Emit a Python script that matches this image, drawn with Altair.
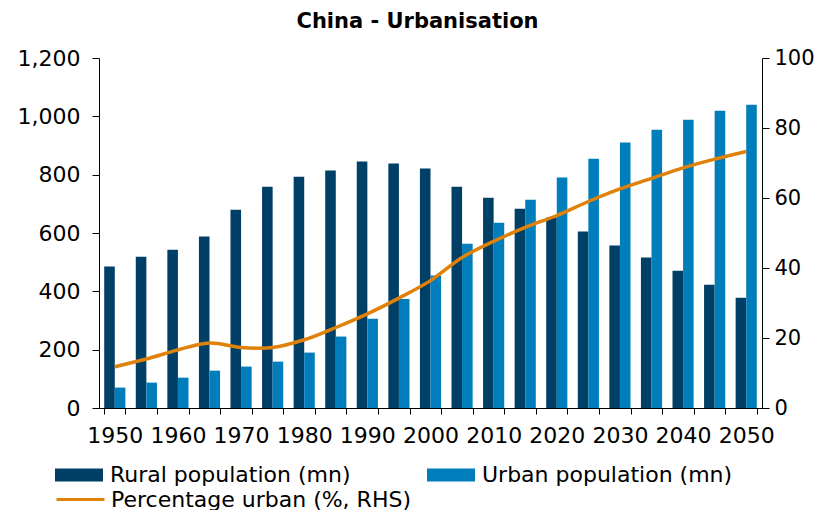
import altair as alt
import pandas as pd

years = list(range(1950, 2051, 5))
rural = [485, 519, 543, 588, 680, 759, 793, 814, 845, 838, 821,
         759, 721, 683, 653, 605, 557, 516, 471, 423, 378]
urban = [70, 87, 104, 128, 142, 159, 190, 245, 306, 374, 454,
         563, 635, 714, 790, 855, 910, 954, 988, 1019, 1040]
pct_urban = [11.8, 14.0, 16.6, 18.6, 17.3, 17.3, 19.5, 23.0, 26.9, 31.4, 36.4,
             43.0, 47.6, 51.6, 55.0, 59.0, 62.6, 65.6, 68.6, 71.1, 73.3]

RURAL = "Rural population (mn)"
URBAN = "Urban population (mn)"
PCT = "Percentage urban (%, RHS)"

bars_df = pd.DataFrame(
    [{"year": y, "series": RURAL, "value": v} for y, v in zip(years, rural)]
    + [{"year": y, "series": URBAN, "value": v} for y, v in zip(years, urban)]
)
line_df = pd.DataFrame({"year": years, "pct": pct_urban, "series": PCT})

FONT = "DejaVu Sans"
FS = 22

x_enc = alt.X(
    "year:O",
    title=None,
    scale=alt.Scale(paddingInner=0.33, paddingOuter=0.165),
    axis=alt.Axis(
        labelAngle=0,
        labelExpr="datum.value % 10 === 0 ? datum.label : ''",
        tickBand="extent",
        tickSize=6,
        labelPadding=11,
        domainColor="black",
        tickColor="black",
        labelColor="black",
        labelFont=FONT,
        labelFontSize=FS,
        labelOverlap=False,
    ),
)

bars = alt.Chart(bars_df).mark_bar().encode(
    x=x_enc,
    xOffset=alt.XOffset("series:N", scale=alt.Scale(domain=[RURAL, URBAN], paddingInner=0, paddingOuter=0)),
    y=alt.Y(
        "value:Q",
        title=None,
        scale=alt.Scale(domain=[0, 1200]),
        axis=alt.Axis(
            values=[0, 200, 400, 600, 800, 1000, 1200],
            format=",.0f",
            grid=False,
            tickSize=7,
            labelPadding=12,
            domainColor="black",
            tickColor="black",
            labelColor="black",
            labelFont=FONT,
            labelFontSize=FS,
        ),
    ),
    color=alt.Color(
        "series:N",
        scale=alt.Scale(domain=[RURAL, URBAN], range=["#003F66", "#007DBB"]),
        legend=alt.Legend(
            title=None,
            orient="none",
            legendX=-44,
            legendY=393,
            direction="horizontal",
            columns=2,
            columnPadding=76,
            symbolType="M-1,-0.27H1V0.27H-1Z",
            symbolSize=2304,
            symbolStrokeWidth=0,
            symbolOpacity=1,
            labelOffset=7,
            labelFont=FONT,
            labelFontSize=FS,
            labelColor="black",
            labelLimit=400,
        ),
    ),
)

line = alt.Chart(line_df).mark_line(strokeWidth=3.5, interpolate="catmull-rom").encode(
    x=alt.X("year:O"),
    y=alt.Y(
        "pct:Q",
        title=None,
        scale=alt.Scale(domain=[0, 100]),
        axis=alt.Axis(
            orient="right",
            values=[0, 20, 40, 60, 80, 100],
            grid=False,
            tickSize=7,
            labelPadding=5,
            domainColor="black",
            tickColor="black",
            labelColor="black",
            labelFont=FONT,
            labelFontSize=21,
        ),
    ),
    stroke=alt.Stroke(
        "series:N",
        scale=alt.Scale(domain=[PCT], range=["#E0820A"]),
        legend=alt.Legend(
            title=None,
            orient="none",
            legendX=-44,
            legendY=416,
            symbolType="stroke",
            symbolSize=2304,
            symbolStrokeWidth=3,
            labelOffset=5,
            labelFont=FONT,
            labelFontSize=FS,
            labelColor="black",
            labelLimit=400,
        ),
    ),
)

chart = (
    alt.layer(bars, line)
    .resolve_scale(y="independent", color="independent")
    .properties(
        width=663,
        height=350,
        autosize=alt.AutoSizeParams(type="none"),
        padding={"left": 91, "top": 50, "right": 53, "bottom": 102},
        title=alt.TitleParams(
            "China - Urbanisation",
            font=FONT,
            fontSize=21,
            fontWeight="bold",
            color="black",
            anchor="middle",
            offset=15,
            dx=-13,
        ),
        background="white",
    )
    .configure_view(stroke=None)
)

chart.save("out.html", embed_options={"renderer": "svg", "actions": False})
